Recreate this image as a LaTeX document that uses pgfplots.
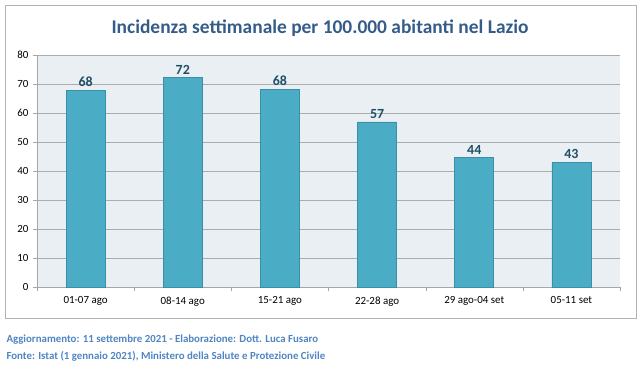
\documentclass[border=0pt]{standalone}
\usepackage{fontspec}
\setmainfont{Carlito}
\usepackage{pgfplots}
\pgfplotsset{compat=1.18}
\usepackage{pgfplotstable}
\definecolor{barfill}{HTML}{4BACC6}
\definecolor{bardraw}{HTML}{3A8EA5}
\definecolor{plotbg}{HTML}{E9EFF3}
\definecolor{titlec}{HTML}{355C89}
\definecolor{valc}{HTML}{1F4F66}
\definecolor{footc}{HTML}{4F85C2}
\pgfplotstableread{
x y lab
0 67.8 68
1 72.2 72
2 68.1 68
3 56.9 57
4 44.6 44
5 43.0 43
}\datatable
\begin{document}
\begin{tikzpicture}[x=1bp,y=1bp]
\useasboundingbox (0,0) rectangle (644,368);
\draw[gray!60, line width=0.8bp] (5,50) rectangle (636,363);
\node[font=\bfseries\fontsize{19.5}{22}\selectfont, text=titlec] at (320,340) {Incidenza settimanale per 100.000 abitanti nel Lazio};
\begin{axis}[
  at={(37bp,81bp)}, anchor=south west,
  scale only axis, width=583bp, height=232bp,
  xmin=-0.5, xmax=5.5, ymin=0, ymax=80,
  axis background/.style={fill=plotbg},
  axis x line*=bottom, axis y line*=left,
  axis line style={gray!70, line width=0.6bp},
  ytick={0,10,...,80},
  ymajorgrids, grid style={gray!65, line width=0.6bp},
  ytick style={gray!70},
  tick align=outside, major tick length=4bp,
  xtick={0,...,5},
  xticklabels={01-07 ago,08-14 ago,15-21 ago,22-28 ago,29 ago-04 set,05-11 set},
  xtick style={draw=none},
  extra x ticks={-0.5,0.5,1.5,2.5,3.5,4.5,5.5},
  extra x tick labels={},
  extra x tick style={xtick style={draw=gray!70}, major tick length=4bp, grid=none},
  tick label style={font=\fontsize{11}{13}\selectfont},
  /pgf/number format/assume math mode=true,
  xticklabel style={yshift=-2bp},
  yticklabel style={xshift=-1bp},
  nodes near coords,
  point meta=explicit symbolic,
  nodes near coords style={font=\bfseries\fontsize{14}{16}\selectfont, text=valc, yshift=0bp},
  clip=false,
]
\addplot[ybar, bar width=39bp, fill=barfill, draw=bardraw, line width=0.6bp] table[x=x, y=y, meta=lab] {\datatable};
\end{axis}
\node[anchor=west, font=\bfseries\fontsize{10.9}{13}\selectfont, text=footc] at (3,28) {Aggiornamento: 11 settembre 2021 - Elaborazione: Dott. Luca Fusaro};
\node[anchor=west, font=\bfseries\fontsize{10.9}{13}\selectfont, text=footc] at (3,12) {Fonte: Istat (1 gennaio 2021), Ministero della Salute e Protezione Civile};
\end{tikzpicture}
\end{document}
